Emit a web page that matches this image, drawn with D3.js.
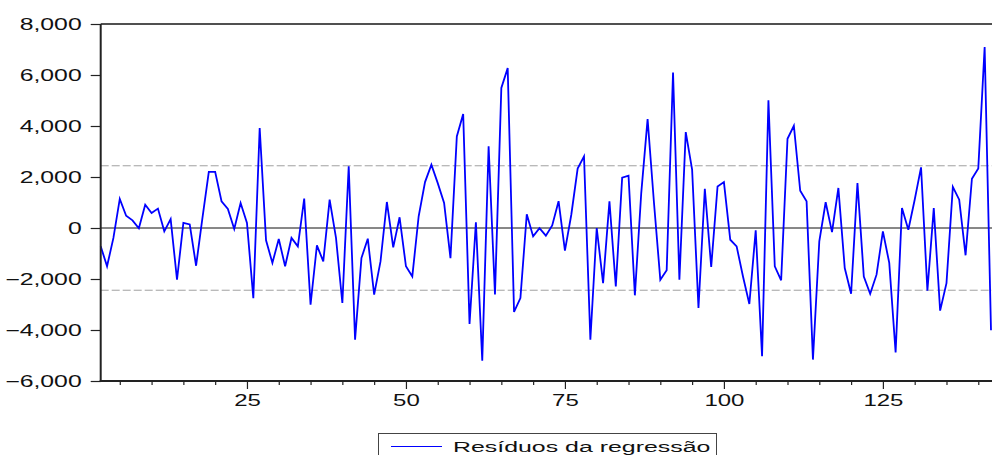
<!DOCTYPE html>
<html>
<head>
<meta charset="utf-8">
<script src="https://cdn.jsdelivr.net/npm/d3@7"></script>
<style>
  html, body { margin: 0; padding: 0; background: #fff; }
  svg { display: block; }
  text { font-family: "Liberation Sans", Arial, sans-serif; fill: #111; }
</style>
</head>
<body>
<svg id="chart" width="992" height="455"></svg>
<script>
// Observation numbers (sample starts at observation 2)
const firstObs = 2;
const lastObs = 142;

// Regression residuals, one per observation from 2 to 142
const residuals = [
  -720, -1500, -390, 1140, 480, 300, -10, 910, 590, 760,
  -130, 350, -2030, 200, 140, -1480, 400, 2200, 2200, 1050,
  750, -40, 980, 200, -2750, 3920, -480, -1370, -430, -1500,
  -390, -720, 1150, -3010, -680, -1310, 1110, -390, -2940, 2420,
  -4380, -1180, -420, -2610, -1310, 1020, -760, 420, -1500, -1900,
  460, 1800, 2480, 1760, 980, -1180, 3590, 4470, -3760, 220,
  -5200, 3200, -2610, 5490, 6270, -3290, -2750, 540, -330, -10,
  -300, 100, 1050, -890, 520, 2330, 2810, -4380, 0, -2160,
  1050, -2290, 1970, 2050, -2640, 1370, 4270, 1000, -2030, -1660,
  6100, -2030, 3760, 2290, -3140, 1540, -1530, 1630, 1800, -460,
  -720, -1900, -2980, -90, -5030, 5010, -1500, -2050, 3500, 4010,
  1460, 1050, -5160, -520, 1010, -160, 1570, -1570, -2580, 1760,
  -1900, -2580, -1830, -130, -1370, -4880, 780, -70, 1110, 2380,
  -2460, 780, -3240, -2160, 1610, 1110, -1070, 1930, 2330, 7100,
  -4010
];

// Horizontal reference lines at plus/minus one standard error
const bandLevel = 2440;

const yTicks = [-6000, -4000, -2000, 0, 2000, 4000, 6000, 8000];
const xMajorTicks = [25, 50, 75, 100, 125];
const xMinorTicks = [5, 10, 15, 20, 30, 35, 40, 45, 55, 60, 65, 70, 80, 85, 90, 95, 105, 110, 115, 120, 130, 135, 140];

const legendLabel = "Resíduos da regressão";

(function draw() {
  const data = residuals.map((v, i) => ({ obs: firstObs + i, value: v }));

  const svg = d3.select("#chart");
  const plotLeft = 100.7, plotRight = 991, plotTop = 24, plotBottom = 381;

  const x = d3.scaleLinear().domain([firstObs, lastObs]).range([plotLeft, plotRight]);
  const y = d3.scaleLinear().domain([-6000, 8000]).range([plotBottom, plotTop]);

  // Top frame line
  svg.append("line")
    .attr("x1", plotLeft).attr("x2", 992)
    .attr("y1", plotTop).attr("y2", plotTop)
    .attr("stroke", "#505050").attr("stroke-width", 2);

  // Dashed band lines
  [bandLevel, -bandLevel].forEach(v => {
    svg.append("line")
      .attr("x1", plotLeft).attr("x2", 992)
      .attr("y1", y(v)).attr("y2", y(v))
      .attr("stroke", "#a0a0a0").attr("stroke-width", 1)
      .attr("stroke-dasharray", "8,3");
  });

  // Zero line
  svg.append("line")
    .attr("x1", plotLeft).attr("x2", 992)
    .attr("y1", y(0)).attr("y2", y(0))
    .attr("stroke", "#111").attr("stroke-width", 1);

  // Residual series
  const line = d3.line().x(d => x(d.obs)).y(d => y(d.value));
  svg.append("path")
    .datum(data)
    .attr("d", line)
    .attr("fill", "none")
    .attr("stroke", "#0000ff")
    .attr("stroke-width", 1.8)
    .attr("stroke-linejoin", "miter");

  // Y axis
  const yAxis = svg.append("g")
    .attr("transform", `translate(${plotLeft},0)`)
    .call(d3.axisLeft(y).tickValues(yTicks).tickSize(10).tickPadding(0)
      .tickFormat(d3.format(",")));
  yAxis.select(".domain").attr("stroke", "#222").attr("stroke-width", 2)
    .attr("d", `M0,${plotTop}V${plotBottom}`);
  yAxis.selectAll(".tick line").attr("stroke", "#222").attr("stroke-width", 1.2);
  yAxis.selectAll(".tick text")
    .attr("x", null).attr("dy", null)
    .attr("text-anchor", "end")
    .attr("dominant-baseline", "central")
    .attr("font-size", 16)
    .attr("transform", "translate(-19,0) scale(1.55,1)")
    .style("font-family", "'Liberation Sans', Arial, sans-serif")
    .attr("fill", "#111");

  // X axis: minor ticks
  const xMinor = svg.append("g")
    .attr("transform", `translate(0,${plotBottom})`)
    .call(d3.axisBottom(x).tickValues(xMinorTicks).tickSize(4).tickFormat(""));
  xMinor.select(".domain").remove();
  xMinor.selectAll(".tick line").attr("stroke", "#222").attr("stroke-width", 1.2);

  // X axis: labelled ticks
  const xAxis = svg.append("g")
    .attr("transform", `translate(0,${plotBottom})`)
    .call(d3.axisBottom(x).tickValues(xMajorTicks).tickSize(8).tickPadding(0));
  xAxis.select(".domain").attr("stroke", "#222").attr("stroke-width", 2)
    .attr("d", `M${plotLeft - 1},0H992`);
  xAxis.selectAll(".tick line").attr("stroke", "#222").attr("stroke-width", 1.2);
  xAxis.selectAll(".tick text")
    .attr("y", null).attr("dy", null)
    .attr("text-anchor", "middle")
    .attr("font-size", 16)
    .attr("transform", "translate(0,25) scale(1.5,1)")
    .style("font-family", "'Liberation Sans', Arial, sans-serif")
    .attr("fill", "#111");

  // Legend
  const legend = svg.append("g");
  legend.append("rect")
    .attr("x", 378.5).attr("y", 433.5)
    .attr("width", 338).attr("height", 30)
    .attr("fill", "#fff").attr("stroke", "#444").attr("stroke-width", 1);
  legend.append("line")
    .attr("x1", 391).attr("x2", 442)
    .attr("y1", 446.5).attr("y2", 446.5)
    .attr("stroke", "#0000ff").attr("stroke-width", 1.2);
  legend.append("text")
    .attr("font-size", 15)
    .attr("transform", "translate(453,452) scale(1.66,1)")
    .text(legendLabel);
})();
</script>
</body>
</html>
